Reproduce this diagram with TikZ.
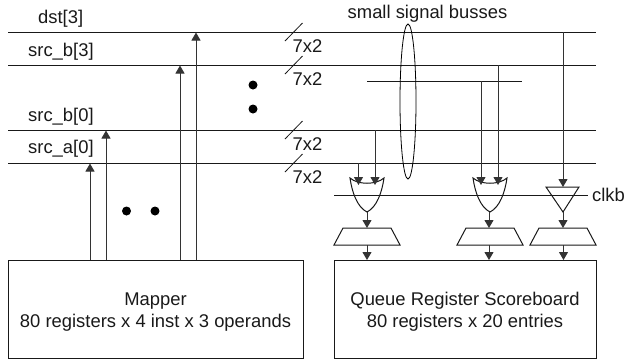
\documentclass[tikz,border=0pt]{standalone}
\usepackage{fontspec}
\setmainfont{Liberation Sans}
\usetikzlibrary{arrows.meta,shapes.geometric}
\tikzset{
  x=1pt,y=-1pt,
  wire/.style={line width=1pt,draw=black!90},
  sig/.style={line width=1pt,draw=black!80,-{Triangle[length=8pt,width=9pt]}},
  lbl/.style={font=\fontsize{18.4}{22}\selectfont,inner sep=0pt,text=black!90},
  boxnode/.style={draw=black!90,line width=1pt,inner sep=0pt,align=center,font=\fontsize{18.4}{22}\selectfont,text=black!90},
  trap/.style={draw=black!90,line width=1pt},
  dotmark/.style={circle,fill=black,inner sep=0pt,minimum size=9pt,draw=none},
}
\begin{document}
\begin{tikzpicture}
\useasboundingbox (0,0) rectangle (624,360);
% bus coordinates
\foreach \n/\y in {a/32,b/65,c/130,d/163}{
  \coordinate (\n L) at (8,\y);
  \coordinate (\n R) at (596,\y);
  \draw[wire] (\n L) -- (\n R);
  \coordinate (\n s) at (285,\y+9);
  \coordinate (\n e) at (302.5,\y-9);
  \draw[wire,line width=0.8pt] (\n s) -- (\n e);
  \node[lbl] at (307.5,\y+14.5) {7x2};
}
\coordinate (clkL) at (334,195); \coordinate (clkR) at (588,195);
\draw[wire] (clkL) -- (clkR);
\coordinate (smL) at (367,81); \coordinate (smR) at (522,81);
\draw[wire] (smL) -- (smR);
% labels
\node[lbl,anchor=base west] at (38,23) {dst[3]};
\node[lbl,anchor=base west] at (28,56) {src\_b[3]};
\node[lbl,anchor=base west] at (28,121.5) {src\_b[0]};
\node[lbl,anchor=base west] at (28,153) {src\_a[0]};
\node[lbl,anchor=base] at (427.5,18) {small signal busses};
\node[lbl,anchor=base west] at (592,201) {clkb};
% boxes
\node[boxnode,minimum width=295pt,minimum height=98pt] (mapper) at (155.5,309) {\rule{0pt}{19pt}Mapper\\80 registers x 4 inst x 3 operands};
\node[boxnode,minimum width=262pt,minimum height=98pt] (queue) at (465,309) {\rule{0pt}{19pt}Queue Register Scoreboard\\80 registers x 20 entries};
% mapper outputs
\foreach \n/\x/\y in {1/90/163,2/106/130,3/180/65,4/196/32}{
  \coordinate (mo\n) at (\x,260);
  \coordinate (mi\n) at (\x,\y+.5);
  \draw[sig] (mo\n) -- (mi\n);
}
% dots
\node[dotmark] (d1) at (253,85) {};
\node[dotmark] (d2) at (253,109) {};
\node[dotmark] (d3) at (126.5,211) {};
\node[dotmark] (d4) at (155,211) {};
% ellipse
\node[draw=black,line width=0.8pt,ellipse,minimum width=16pt,minimum height=155pt,inner sep=0pt] (ell) at (408,101.5) {};
% OR gates
\foreach \n/\c in {A/367,B/490}{
  \draw[trap] (\c-17,178) .. controls (\c-9,185) and (\c+9,185) .. (\c+17,178)
     .. controls (\c+15,192) and (\c+10,207) .. (\c,212)
     .. controls (\c-10,207) and (\c-15,192) .. (\c-17,178) -- cycle;
  \coordinate (gate\n) at (\c,212);
}
% buffer
\draw[trap] (546,187) -- (579,187) -- (563,212) -- cycle;
\coordinate (gateC) at (563,212);
% trapezoids
\foreach \n/\l in {A/334,B/457,C/530}{
  \draw[trap] (\l,245) -- (\l+9,228) -- (\l+57,228) -- (\l+66,245) -- cycle;
}
\coordinate (tA) at (367,228);\coordinate (tB) at (489,228);\coordinate (tC) at (563,228);
\coordinate (bA) at (367,245);\coordinate (bB) at (489,245);\coordinate (bC) at (563.5,245);
\draw[sig] (gateA) -- (tA);
\draw[sig] (489,212) -- (tB);
\draw[sig] (gateC) -- (tC);
\draw[sig] (bA) -- (367,260);
\draw[sig] (bB) -- (489,260);
\draw[sig] (bC) -- (563.5,260);
% inputs to gates
\draw[sig] (358.5,163) -- (358.5,185);
\draw[sig] (375,130) -- (375,185);
\draw[sig] (481,81) -- (481,185);
\draw[sig] (498,65) -- (498,185);
\draw[sig] (563,32) -- (563,187);
\end{tikzpicture}
\end{document}
